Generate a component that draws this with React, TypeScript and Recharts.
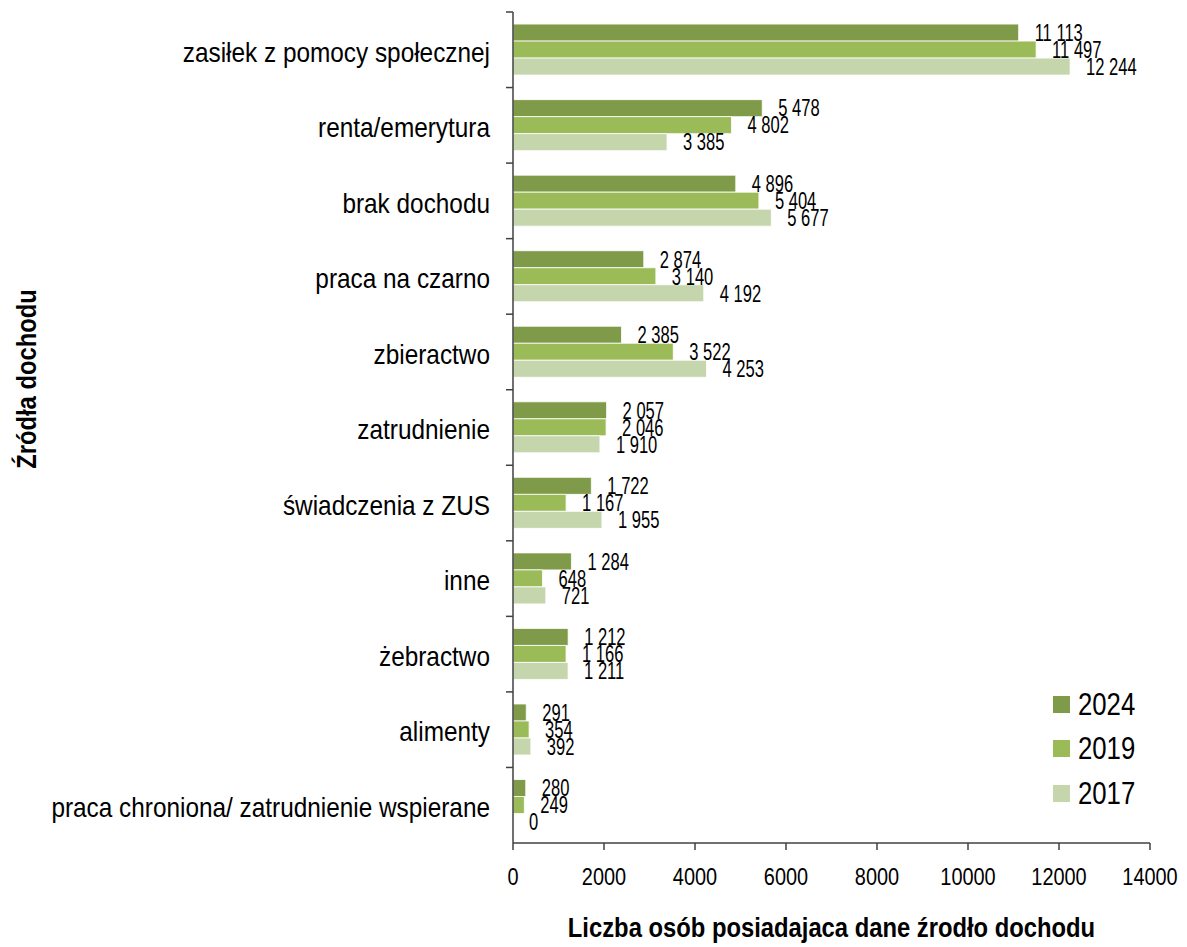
import { BarChart, Bar, XAxis, YAxis, LabelList, Legend } from "recharts";

const categories = [
  "zasiłek z pomocy społecznej",
  "renta/emerytura",
  "brak dochodu",
  "praca na czarno",
  "zbieractwo",
  "zatrudnienie",
  "świadczenia z ZUS",
  "inne",
  "żebractwo",
  "alimenty",
  "praca chroniona/ zatrudnienie wspierane",
];

const values2024 = [11113, 5478, 4896, 2874, 2385, 2057, 1722, 1284, 1212, 291, 280];
const values2019 = [11497, 4802, 5404, 3140, 3522, 2046, 1167, 648, 1166, 354, 249];
const values2017 = [12244, 3385, 5677, 4192, 4253, 1910, 1955, 721, 1211, 392, 0];

const xTicks = [0, 2000, 4000, 6000, 8000, 10000, 12000, 14000];

const SERIES = [
  { key: "y2024", name: "2024", color: "#7F9A48" },
  { key: "y2019", name: "2019", color: "#9BBB59" },
  { key: "y2017", name: "2017", color: "#C6D6AC" },
];

const data = categories.map((name, i) => ({
  name,
  y2024: values2024[i],
  y2019: values2019[i],
  y2017: values2017[i],
}));

// no narrow font installed, so Liberation Sans is squeezed horizontally instead
const FONT = "'Liberation Sans', Arial, sans-serif";
const AXIS = "#404040";
const PLOT_H = 831;
const BAND = PLOT_H / categories.length;

const fmt = (v: number) => String(v).replace(/\B(?=(\d{3})+(?!\d))/g, " ");

function NarrowText({ x, y, sx, size, bold, anchor, dy, children, rotate }: any) {
  const tr = `translate(${x} ${y})${rotate ? ` rotate(${rotate})` : ""} scale(${sx} 1)`;
  return (
    <text
      transform={tr}
      x={0}
      y={0}
      dy={dy}
      textAnchor={anchor}
      fontSize={size}
      fontWeight={bold ? 700 : 400}
      fontFamily={FONT}
      fill="#000"
    >
      {children}
    </text>
  );
}

function CategoryTick(props: any) {
  const { x, y, payload } = props;
  const axisX = x + 23;
  const top = y - BAND / 2;
  return (
    <g>
      <line x1={axisX - 7} y1={top} x2={axisX} y2={top} stroke={AXIS} strokeWidth={1.5} />
      <NarrowText x={x} y={y} sx={0.87} size={28} anchor="end" dy="0.42em">
        {payload.value}
      </NarrowText>
    </g>
  );
}

function ValueTick(props: any) {
  const { x, y, payload } = props;
  return (
    <NarrowText x={x} y={y} sx={0.83} size={24} anchor="middle" dy="0.71em">
      {payload.value}
    </NarrowText>
  );
}

function BarValue(props: any) {
  const { x, y, width, height, value } = props;
  return (
    <NarrowText x={x + width + 16} y={y + height / 2} sx={0.72} size={23} anchor="start" dy="0.36em">
      {fmt(Number(value))}
    </NarrowText>
  );
}

function XTitle(props: any) {
  const vb = props.viewBox;
  return (
    <NarrowText x={vb.x + vb.width / 2} y={vb.y + 94} sx={0.85} size={28} bold anchor="middle">
      Liczba osób posiadajaca dane źrodło dochodu
    </NarrowText>
  );
}

function YTitle(props: any) {
  const vb = props.viewBox;
  return (
    <NarrowText x={vb.x + 28} y={vb.y + 367} rotate={-90} sx={0.85} size={28} bold anchor="middle">
      Źródła dochodu
    </NarrowText>
  );
}

function YearLegend() {
  return (
    <div style={{ fontFamily: FONT }}>
      {SERIES.map((s) => (
        <div key={s.key} style={{ display: "flex", alignItems: "center", height: 44.5 }}>
          <span style={{ width: 17, height: 17, background: s.color, display: "inline-block", marginRight: 8 }} />
          <span
            style={{
              fontSize: 31,
              color: "#000",
              lineHeight: 1,
              display: "inline-block",
              transform: "scaleX(0.83)",
              transformOrigin: "left center",
            }}
          >
            {s.name}
          </span>
        </div>
      ))}
    </div>
  );
}

export default function App() {
  return (
    <BarChart
      width={1171}
      height={939}
      data={data}
      layout="vertical"
      margin={{ top: 4, right: 29, bottom: 0, left: 0 }}
      barCategoryGap="16%"
      barGap={0}
    >
      <XAxis
        type="number"
        domain={[0, 14000]}
        ticks={xTicks}
        interval={0}
        height={104}
        tickSize={7}
        tickMargin={18}
        stroke={AXIS}
        strokeWidth={1.5}
        tick={<ValueTick />}
        label={<XTitle />}
      />
      <YAxis
        type="category"
        dataKey="name"
        width={505}
        interval={0}
        tickSize={7}
        tickMargin={16}
        tickLine={false}
        stroke={AXIS}
        strokeWidth={1.5}
        tick={<CategoryTick />}
        label={<YTitle />}
      />
      <Legend
        layout="vertical"
        verticalAlign="middle"
        align="center"
        content={<YearLegend />}
        wrapperStyle={{ left: 1045, top: 674, width: 120 }}
      />
      {SERIES.map((s) => (
        <Bar
          key={s.key}
          dataKey={s.key}
          name={s.name}
          fill={s.color}
          stroke="#ffffff"
          strokeWidth={0.8}
          minPointSize={0.01}
          isAnimationActive={false}
        >
          <LabelList dataKey={s.key} content={<BarValue />} />
        </Bar>
      ))}
    </BarChart>
  );
}
